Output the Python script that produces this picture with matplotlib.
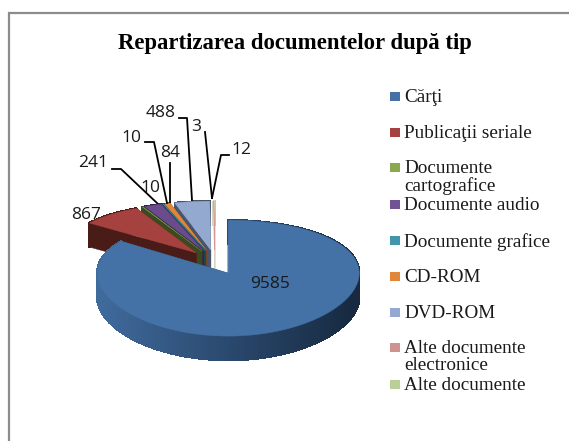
import numpy as np
import matplotlib
matplotlib.use("Agg")
import matplotlib.pyplot as plt
from matplotlib.patches import Polygon, Rectangle

# ---------------------------  DATA  --------------------------- #
categories = ["Cărţi", "Publicaţii seriale", "Documente\ncartografice", "Documente audio",
              "Documente grafice", "CD-ROM", "DVD-ROM", "Alte documente\nelectronice", "Alte documente"]
values = [9585, 867, 10, 241, 10, 84, 488, 3, 12]
top_colors = ["#4472a6", "#a5423f", "#7f9a48", "#6a4c8c", "#3a8ea6", "#e0873a", "#93a9cf", "#cf8f8e", "#b9cd96"]
wall_colors = ["#2c4a6f", "#4a1c18", "#3c4a20", "#33254a", "#1d4753", "#74451c", "#49546a", "#d8d4c0", "#c4c6a8"]
legend_colors = ["#4472a6", "#a5423f", "#8aa84e", "#6f5395", "#3f96ad", "#e0873a", "#93a9d2", "#d09291", "#b9cf96"]

# label text position (pixels), then the leader line from the label to the slice
label_pos = [(270, 284), (86, 215), (150, 188), (93, 163), (131, 138), (170, 153), (161, 113), (196, 127), (241, 150)]
leaders = [None, None, None,
           [(112, 169), (121, 169), (157, 203)],
           [(145, 142), (154, 142), (167, 203)],
           [(170, 163), (170, 202)],
           [(179, 118), (187, 118), (192, 200)],
           [(205, 132), (212, 198)],
           [(229, 155), (221, 155), (212, 198)]]
legend_y = [97, 133, 168, 205, 241, 277, 313, 348, 385]

# pie geometry in pixels
cx, cy = 215, 262
rx, ry = 131, 56
depth = 24
explode = 0.22

fig = plt.figure(figsize=(5.69, 4.41), dpi=100)
ax = fig.add_axes([0, 0, 1, 1])
ax.set_xlim(0, 569)
ax.set_ylim(441, 0)
ax.axis("off")

# frame, only top and left are inside the crop
ax.plot([9, 9, 569], [441, 13, 13], color="#8c8c8c", lw=1.6, solid_joinstyle="miter")

ax.text(295, 43, "Repartizarea documentelor după tip", ha="center", va="center",
        family="Liberation Serif", fontweight="bold", fontsize=16.4, color="black")


def project(u, v):
    # flattened disc with a little perspective
    return cx + rx * u, cy - ry * v + 5 * v * v


def mix(c1, c2, t):
    a = np.array(matplotlib.colors.to_rgb(c1))
    b = np.array(matplotlib.colors.to_rgb(c2))
    return a + (b - a) * t


total = sum(values)
ends = np.cumsum(values) / total * 360
starts = np.concatenate([[0], ends[:-1]])

# back slices first, the big one last so it covers the rest
for i in range(len(values) - 1, -1, -1):
    a0, a1 = np.radians(starts[i]), np.radians(ends[i])
    mid = (a0 + a1) / 2
    du, dv = explode * np.sin(mid), explode * np.cos(mid)
    n = max(3, int(np.degrees(a1 - a0)))
    ang = np.linspace(a0, a1, n)
    xs, ys = project(du + np.sin(ang), dv + np.cos(ang))
    tx, ty = project(du, dv)
    # cut faces
    for ex, ey in [(xs[0], ys[0]), (xs[-1], ys[-1])]:
        ax.add_patch(Polygon([(tx, ty), (ex, ey), (ex, ey + depth), (tx, ty + depth)],
                             closed=True, fc=wall_colors[i], ec=wall_colors[i], lw=0.3))
    # outer wall, shaded left to right
    for j in range(n - 1):
        t = np.clip((xs[j] - 100) / 250, 0, 1)
        if i == 0:
            col = mix("#3f6a9c", "#172a42", t)
        else:
            col = wall_colors[i]
        ax.add_patch(Polygon([(xs[j], ys[j]), (xs[j + 1], ys[j + 1]),
                              (xs[j + 1], ys[j + 1] + depth), (xs[j], ys[j] + depth)],
                             closed=True, fc=col, ec=col, lw=1.0, antialiased=False))
    ax.add_patch(Polygon(np.column_stack([np.r_[tx, xs], np.r_[ty, ys]]), closed=True,
                         fc=top_colors[i], ec=top_colors[i], lw=0.3))

# data labels
for i, v in enumerate(values):
    ax.text(label_pos[i][0], label_pos[i][1], str(v), ha="center", va="center",
            family="Open Sans", fontsize=12.5, color="#1a1a1a")
    if leaders[i] is not None:
        ax.plot([p[0] for p in leaders[i]], [p[1] for p in leaders[i]], color="black", lw=1.3)

# legend
for name, col, y in zip(categories, legend_colors, legend_y):
    ax.add_patch(Rectangle((390, y - 5), 10, 9, fc=col, ec="none"))
    ax.text(404, y - 8, name, ha="left", va="top", family="Liberation Serif",
            fontsize=13.8, color="#1a1a1a", linespacing=1.0)

fig.savefig("out.png", dpi=100, facecolor="white")
